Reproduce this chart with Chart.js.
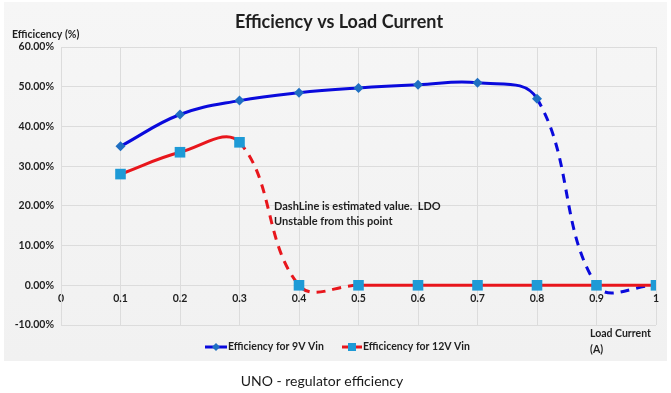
<!DOCTYPE html>
<html>
<head>
<meta charset="utf-8">
<script src="https://cdn.jsdelivr.net/npm/chart.js@4.4.1/dist/chart.umd.min.js"></script>
<style>
  html, body { margin: 0; padding: 0; background: #ffffff; }
  #wrap { position: relative; width: 671px; height: 393px; }
</style>
</head>
<body>
<div id="wrap"><canvas id="c"></canvas></div>
<script>
// ---- data ----
const loadCurrent = [0.1, 0.2, 0.3, 0.4, 0.5, 0.6, 0.7, 0.8, 0.9, 1.0];
const eff9V  = [35.0, 43.0, 46.5, 48.5, 49.7, 50.5, 51.0, 47.0, 0.0, 0.0];
const eff12V = [28.0, 33.5, 36.0, 0.0, 0.0, 0.0, 0.0, 0.0, 0.0, 0.0];
const seriesNames = ['Efficiency for 9V Vin', 'Efficicency for 12V Vin'];
const xTicks = [0, 0.1, 0.2, 0.3, 0.4, 0.5, 0.6, 0.7, 0.8, 0.9, 1];
const yTicks = [-10, 0, 10, 20, 30, 40, 50, 60];
const chartTitle = 'Efficiency vs Load Current';
const yTitle = 'Efficicency (%)';
const xTitle = ['Load Current', '(A)'];
const noteLines = ['DashLine is estimated value.  LDO', 'Unstable from this point'];
const caption = 'UNO - regulator efficiency';

const BLUE_LINE = '#0a0adc';
const BLUE_MARK = '#1f6fc2';
const RED_LINE = '#e8161c';
const SQ_MARK = '#1e9ad6';
const FONT = 'Lato, "Open Sans", sans-serif';
const TXT = '#1f1f1f';

const toPts = (xs, ys) => xs.map((x, i) => ({ x: x, y: ys[i] }));

const decor = {
  id: 'decor',
  beforeDraw(chart) {
    const ctx = chart.ctx;
    ctx.save();
    ctx.fillStyle = '#ffffff';
    ctx.fillRect(0, 0, chart.width, chart.height);
    const g = ctx.createLinearGradient(0, 2, 0, 361);
    g.addColorStop(0, '#f6f6f6');
    g.addColorStop(1, '#f1f1f1');
    ctx.fillStyle = g;
    ctx.fillRect(4, 2, 663, 359);
    ctx.restore();
  },
  afterDraw(chart) {
    const ctx = chart.ctx;
    ctx.save();
    ctx.fillStyle = TXT;
    ctx.textBaseline = 'middle';
    // title
    ctx.font = 'bold 18px ' + FONT;
    ctx.textAlign = 'center';
    ctx.fillText(chartTitle, 339, 22);
    // y title
    ctx.font = 'bold 10.5px ' + FONT;
    ctx.textAlign = 'left';
    ctx.fillText(yTitle, 12, 35);
    // x title
    ctx.fillText(xTitle[0], 590, 334);
    ctx.fillText(xTitle[1], 590, 350);
    // note
    ctx.font = 'bold 11px ' + FONT;
    ctx.fillText(noteLines[0], 274, 206);
    ctx.fillText(noteLines[1], 274, 221);
    // legend
    const ly = 347;
    ctx.lineWidth = 3;
    ctx.strokeStyle = BLUE_LINE;
    ctx.beginPath(); ctx.moveTo(205, ly); ctx.lineTo(227, ly); ctx.stroke();
    ctx.fillStyle = BLUE_MARK;
    ctx.beginPath();
    ctx.moveTo(216, ly - 4); ctx.lineTo(220, ly); ctx.lineTo(216, ly + 4); ctx.lineTo(212, ly);
    ctx.closePath(); ctx.fill();
    ctx.strokeStyle = RED_LINE;
    ctx.beginPath(); ctx.moveTo(342, ly); ctx.lineTo(362, ly); ctx.stroke();
    ctx.fillStyle = SQ_MARK;
    ctx.fillRect(348, ly - 4, 8, 8);
    ctx.fillStyle = TXT;
    ctx.font = 'bold 10.5px ' + FONT;
    ctx.fillText(seriesNames[0], 228, ly);
    ctx.fillText(seriesNames[1], 363, ly);
    // caption
    ctx.font = '14px ' + FONT;
    ctx.fillStyle = '#1a1a1a';
    ctx.textAlign = 'center';
    ctx.fillText(caption, 322, 381);
    ctx.restore();
  }
};

new Chart(document.getElementById('c'), {
  type: 'line',
  data: {
    datasets: [
      {
        label: seriesNames[0],
        data: toPts(loadCurrent, eff9V),
        borderColor: BLUE_LINE,
        borderWidth: 3,
        backgroundColor: BLUE_MARK,
        pointStyle: 'rectRot',
        pointRadius: 5,
        pointBorderWidth: 0,
        pointBackgroundColor: BLUE_MARK,
        tension: 0.4,
        order: 2,
        segment: {
          borderDash: c => (c.p0.parsed.x >= 0.75 ? [9, 7] : undefined)
        }
      },
      {
        label: seriesNames[1],
        data: toPts(loadCurrent, eff12V),
        borderColor: RED_LINE,
        borderWidth: 3,
        backgroundColor: SQ_MARK,
        pointStyle: 'rect',
        pointRadius: 7.5,
        pointBorderWidth: 0,
        pointBackgroundColor: SQ_MARK,
        tension: 0.4,
        order: 1,
        segment: {
          borderDash: c => (c.p0.parsed.x >= 0.25 && c.p0.parsed.x < 0.45 ? [9, 7] : undefined)
        }
      }
    ]
  },
  options: {
    responsive: true,
    maintainAspectRatio: false,
    animation: false,
    events: [],
    layout: { padding: { top: 47, right: 15, bottom: 68, left: 0 } },
    plugins: { legend: { display: false }, tooltip: { enabled: false }, title: { display: false } },
    scales: {
      x: {
        type: 'linear',
        position: { y: 0 },
        min: 0, max: 1,
        afterBuildTicks: s => { s.ticks = xTicks.map(v => ({ value: v })); },
        ticks: {
          padding: 7,
          color: TXT,
          font: { family: FONT, size: 10.5, weight: 'bold' },
          callback: v => String(+(+v).toFixed(1))
        },
        grid: { color: '#dcdcdc', lineWidth: 1, drawTicks: false },
        border: { display: false }
      },
      y: {
        type: 'linear',
        min: -10, max: 60,
        afterBuildTicks: s => { s.ticks = yTicks.map(v => ({ value: v })); },
        afterFit: s => { s.width = 61; },
        ticks: {
          padding: 7,
          color: TXT,
          font: { family: FONT, size: 10.5, weight: 'bold' },
          callback: v => (+v).toFixed(2) + '%'
        },
        grid: { color: '#dcdcdc', lineWidth: 1, drawTicks: false },
        border: { display: true, color: '#dcdcdc' }
      }
    }
  },
  plugins: [decor]
});
</script>
</body>
</html>
